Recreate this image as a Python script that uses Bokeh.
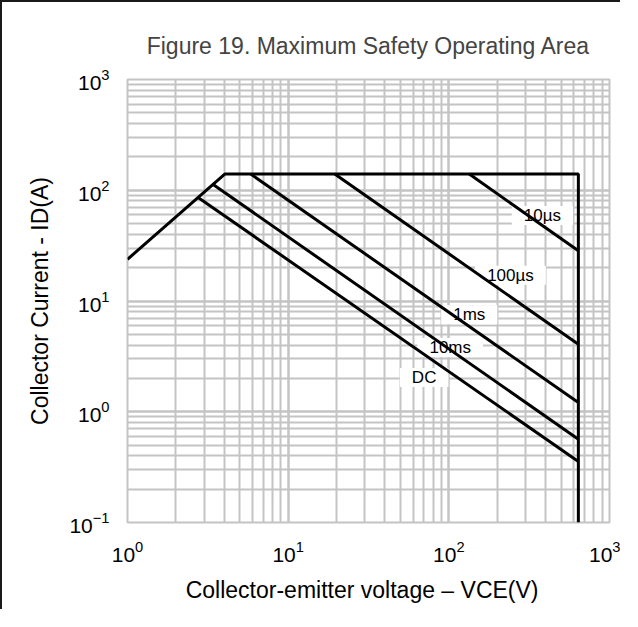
from bokeh.plotting import figure
from bokeh.models import Range1d, ColumnDataSource
from bokeh.core.properties import value
from bokeh.embed import file_html
from bokeh.resources import INLINE

# ---- data ----
# SOA boundary (on-resistance line, current limit, voltage limit)
limit_v = [1.0, 4.03, 640.0, 640.0]
limit_i = [23.8, 140.0, 140.0, 0.1]

# pulse-width limit lines
pulse_names = ["10\u00b5s", "100\u00b5s", "1ms", "10ms", "DC"]
pulse_v_start = [134.0, 19.5, 5.85, 3.43, 2.75]
pulse_i_start = [140.0, 140.0, 140.0, 112.0, 86.0]
pulse_v_end = [640.0, 640.0, 640.0, 640.0, 640.0]
pulse_i_end = [28.4, 4.07, 1.21, 0.565, 0.356]

# label anchor points of the pulse lines
label_v = [382.0, 242.0, 134.0, 102.0, 70.2]
label_i = [59.2, 17.1, 7.5, 3.8, 2.04]

title_text = "Figure 19. Maximum Safety Operating Area"
x_title = "Collector-emitter voltage  \u2013  VCE(V)"
y_title = "Collector Current - ID(A)"

FONT = "Liberation Sans"
W, H = 620, 609

p = figure(width=W, height=H, x_axis_type="log", y_axis_type="log",
           x_range=Range1d(1, 1000), y_range=Range1d(0.1, 1000),
           output_backend="svg", toolbar_location=None,
           min_border_left=125, min_border_right=13, min_border_top=77, min_border_bottom=89,
           background_fill_color="white", border_fill_color="white")
p.styles = {"border-top": "2px solid #1a1a1a", "border-left": "2px solid #1a1a1a"}

p.title.text = title_text
p.title.text_font = FONT
p.title.text_font_size = "23px"
p.title.text_font_style = "normal"
p.title.align = "center"
p.title.standoff = 42

p.outline_line_color = "#c4c4c4"
p.outline_line_width = 2

for g in (p.xgrid, p.ygrid):
    g.grid_line_color = "#c4c4c4"
    g.grid_line_width = 2
    g.minor_grid_line_color = "#c4c4c4"
    g.minor_grid_line_width = 2

for ax in (p.xaxis, p.yaxis):
    ax.axis_line_color = None
    ax.major_tick_line_color = None
    ax.minor_tick_line_color = None
    ax.major_label_text_font = FONT
    ax.major_label_text_font_size = "21px"
    ax.major_label_text_color = "black"
    ax.major_label_standoff = 12
    ax.axis_label_text_font = FONT
    ax.axis_label_text_font_size = "23px"
    ax.axis_label_text_font_style = "normal"
    ax.axis_label_text_color = "black"

p.xaxis.axis_label = x_title
p.xaxis.axis_label_standoff = 12
p.yaxis.axis_label = y_title
p.yaxis.axis_label_standoff = 13

# curve labels with white boxes (drawn below the lines)
lab_src = ColumnDataSource(dict(x=label_v, y=label_i, text=pulse_names))
p.text(x="x", y="y", text="text", source=lab_src, text_align="center", text_baseline="middle",
       text_font=value(FONT), text_font_size="17px", text_color="black",
       background_fill_color="white", padding=[12, 0])

# boundary
p.line(limit_v, limit_i, line_color="black", line_width=3)
# pulse lines
xs = [[a, b] for a, b in zip(pulse_v_start, pulse_v_end)]
ys = [[a, b] for a, b in zip(pulse_i_start, pulse_i_end)]
p.multi_line(xs, ys, line_color="black", line_width=3)

open("out.html", "w").write(file_html(p, INLINE))
